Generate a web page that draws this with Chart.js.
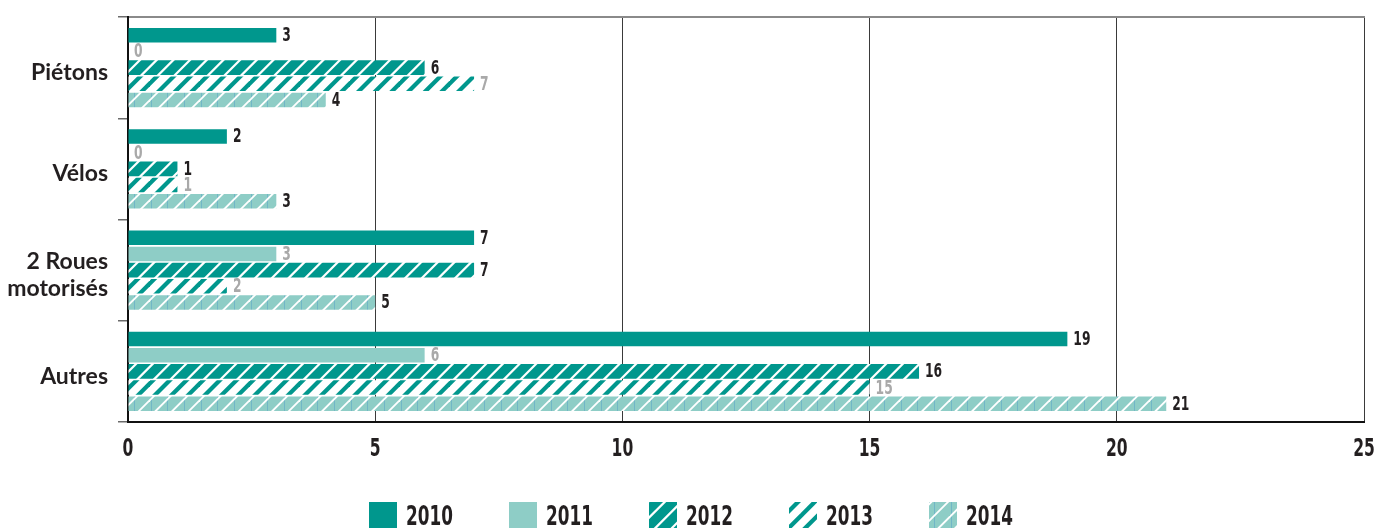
<!DOCTYPE html>
<html>
<head>
<meta charset="utf-8">
<title>Victimes par mode de déplacement</title>
<script src="https://cdn.jsdelivr.net/npm/chart.js@4.4.1/dist/chart.umd.min.js"></script>
<style>
	html,body{margin:0;padding:0;background:#fff;}
	#wrap{width:1381px;height:528px;position:relative;}
</style>
</head>
<body>
<div id="wrap"><canvas id="ctx" width="1381" height="528"></canvas></div>
<script>
// categories and yearly values
var categories = ['Piétons', 'Vélos', ['2 Roues', 'motorisés'], 'Autres'];
var years = ['2010', '2011', '2012', '2013', '2014'];
var v2010 = [3, 2, 7, 19];
var v2011 = [0, 0, 3, 6];
var v2012 = [6, 1, 7, 16];
var v2013 = [7, 1, 2, 15];
var v2014 = [4, 3, 5, 21];
var xTicks = [0, 5, 10, 15, 20, 25];

var TEAL = '#00978d';
var LIGHT = '#8ecdc6';
var NUMFONT = '"DejaVu Sans Condensed", "DejaVu Sans", sans-serif';
var SQUEEZE = 0.72;

// diagonal stripes tile: lines x+y=c, period 50/3 px
function stripes(bg, fg, w, vline){
	var c = document.createElement('canvas');
	c.width = 50; c.height = 50;
	var g = c.getContext('2d');
	g.fillStyle = bg;
	g.fillRect(0, 0, 50, 50);
	var p = 50/3;
	if(vline){
		g.strokeStyle = vline; g.lineWidth = 1;
		for(var x = 0.5; x < 50; x += p){ g.beginPath(); g.moveTo(Math.round(x)+0.5, 0); g.lineTo(Math.round(x)+0.5, 50); g.stroke(); }
	}
	g.strokeStyle = fg; g.lineWidth = w; g.lineCap = 'butt';
	for(var k = -3; k <= 9; k++){
		var c0 = k*p;
		g.beginPath(); g.moveTo(c0+10, -10); g.lineTo(c0-60, 60); g.stroke();
	}
	return g.createPattern(c, 'repeat');
}

// narrow numerals: condensed face squeezed horizontally
function narrowText(ctx, txt, x, y, size, align, color){
	ctx.save();
	ctx.font = 'bold ' + size + 'px ' + NUMFONT;
	ctx.fillStyle = color;
	ctx.textAlign = align;
	ctx.textBaseline = 'middle';
	ctx.translate(x, y);
	ctx.scale(SQUEEZE, 1);
	ctx.fillText(txt, 0, 0);
	ctx.restore();
}

var fills = [
	TEAL,
	LIGHT,
	stripes(TEAL, '#ffffff', 2.2, null),
	stripes('#ffffff', TEAL, 4.2, null),
	stripes(LIGHT, '#ffffff', 1.9, 'rgba(60,140,200,0.35)')
];
var labelColors = ['#231f20', '#a9a9a9', '#231f20', '#a9a9a9', '#231f20'];
var values = [v2010, v2011, v2012, v2013, v2014];

// value at the end of each bar, x tick labels, legend row
var textLayer = {
	id: 'textLayer',
	afterDraw: function(chart){
		var ctx = chart.ctx;
		chart.data.datasets.forEach(function(ds, i){
			chart.getDatasetMeta(i).data.forEach(function(bar, j){
				narrowText(ctx, String(ds.data[j]), bar.x + 6, bar.y + 1, 19, 'left', labelColors[i]);
			});
		});
		var sx = chart.scales.x;
		xTicks.forEach(function(v){
			narrowText(ctx, String(v), sx.getPixelForValue(v), 450, 24, 'center', '#231f20');
		});
		chart.data.datasets.forEach(function(ds, i){
			var x = 369 + i*140;
			ctx.fillStyle = ds.backgroundColor;
			ctx.fillRect(x, 502, 28, 27);
			narrowText(ctx, ds.label, x + 37, 518, 26, 'left', '#231f20');
		});
	}
};

var datasets = years.map(function(y, i){
	return {
		label: y,
		data: values[i],
		backgroundColor: fills[i],
		borderWidth: 0,
		categoryPercentage: 0.8,
		barPercentage: 0.9
	};
});

var myChart = new Chart(document.getElementById('ctx'), {
	type: 'bar',
	data: { labels: categories, datasets: datasets },
	plugins: [textLayer],
	options: {
		indexAxis: 'y',
		responsive: false,
		animation: false,
		layout: { padding: { top: 17, right: 17, bottom: 66, left: 0 } },
		plugins: { legend: { display: false }, tooltip: { enabled: false } },
		scales: {
			x: {
				type: 'linear',
				min: 0, max: 25,
				z: 1,
				afterFit: function(s){ s.height = 40; },
				afterBuildTicks: function(s){ s.ticks = xTicks.map(function(v){ return {value: v}; }); },
				grid: { color: '#3a3a3a', lineWidth: 1, drawTicks: false },
				border: { color: '#111', width: 2 },
				ticks: { display: false }
			},
			xTop: {
				type: 'linear',
				position: 'top',
				min: 0, max: 25,
				afterFit: function(s){ s.height = 0; },
				grid: { drawOnChartArea: false, drawTicks: false, color: 'rgba(0,0,0,0)' },
				border: { color: '#8a8a8a', width: 2 },
				ticks: { display: false }
			},
			y: {
				type: 'category',
				z: 1,
				afterFit: function(s){ s.width = 128; s.paddingTop = 0; s.paddingBottom = 0; },
				grid: { offset: true, drawOnChartArea: false, tickLength: 10, color: '#6b6b6b', lineWidth: 1.5 },
				border: { color: '#111', width: 2 },
				ticks: {
					color: '#231f20', padding: 10, autoSkip: false, labelOffset: 5,
					font: { family: 'Lato, "Open Sans", sans-serif', size: 23, weight: 'bold', lineHeight: 1.15 }
				}
			}
		}
	}
});
</script>
</body>
</html>
